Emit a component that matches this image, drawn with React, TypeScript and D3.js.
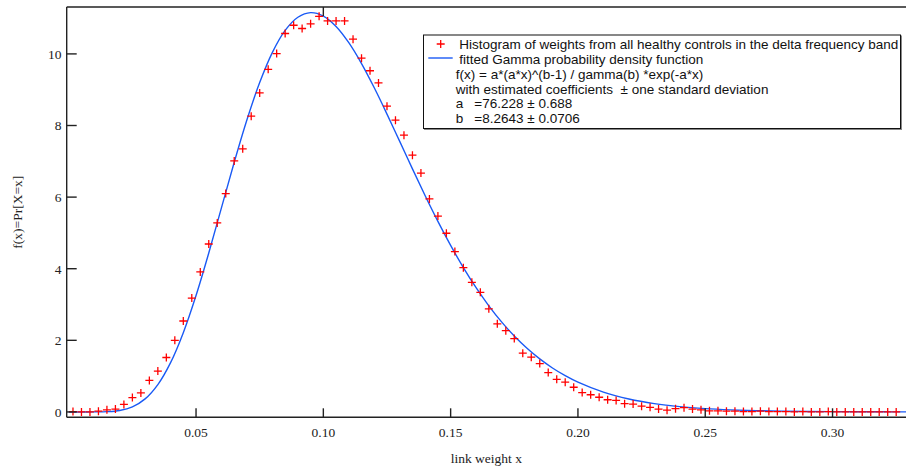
import React from "react";
import * as d3 from "d3";

// ---- data ----
const BIN_WIDTH = 1 / 300;
const histValues: number[] = [
  0.01, 0.0, 0.0, 0.02, 0.06, 0.08, 0.21, 0.4, 0.53, 0.88,
  1.14, 1.52, 2.0, 2.54, 3.18, 3.91, 4.69, 5.28, 6.1, 7.01,
  7.35, 8.26, 8.91, 9.57, 10.01, 10.57, 10.8, 10.71, 10.84, 11.05,
  10.92, 10.92, 10.92, 10.41, 9.88, 9.53, 9.19, 8.54, 8.15, 7.73,
  7.17, 6.67, 5.95, 5.47, 4.99, 4.48, 4.03, 3.62, 3.34, 2.88,
  2.46, 2.27, 2.05, 1.64, 1.53, 1.35, 1.1, 0.91, 0.83, 0.69,
  0.54, 0.48, 0.41, 0.34, 0.32, 0.23, 0.22, 0.16, 0.13, 0.08,
  0.05, 0.09, 0.12, 0.08, 0.06, 0.03, 0.03, 0.02, 0.02, 0.01,
  0.01, 0.02, 0.01, 0.01, 0.01, 0.0, 0.01, 0.0, 0.0, 0.01,
  0.0, 0.0, 0.0, 0.0, 0.0, 0.0, 0.0, 0.0,
];

const curveX: number[] = [
  0, 0.005, 0.01, 0.015, 0.02, 0.025, 0.03, 0.035, 0.04, 0.045,
  0.05, 0.055, 0.06, 0.065, 0.07, 0.075, 0.08, 0.085, 0.09, 0.095,
  0.1, 0.105, 0.11, 0.115, 0.12, 0.125, 0.13, 0.135, 0.14, 0.145,
  0.15, 0.155, 0.16, 0.165, 0.17, 0.175, 0.18, 0.185, 0.19, 0.195,
  0.2, 0.21, 0.22, 0.23, 0.24, 0.25, 0.26, 0.27, 0.28, 0.29,
  0.3, 0.31, 0.32, 0.33,
];
const curveY: number[] = [
  0, 0.0000055, 0.00057, 0.0075, 0.041, 0.142, 0.365, 0.765, 1.378, 2.215,
  3.252, 4.44, 5.707, 6.972, 8.159, 9.199, 10.043, 10.656, 11.024, 11.153,
  11.058, 10.768, 10.313, 9.73, 9.053, 8.319, 7.556, 6.789, 6.04, 5.323,
  4.652, 4.032, 3.469, 2.963, 2.514, 2.12, 1.777, 1.481, 1.228, 1.013,
  0.832, 0.553, 0.362, 0.233, 0.148, 0.093, 0.058, 0.035, 0.022, 0.013,
  0.008, 0.005, 0.003, 0.002,
];

const xTicks: number[] = [0.05, 0.1, 0.15, 0.2, 0.25, 0.3];
const xTickLabels: string[] = ["0.05", "0.10", "0.15", "0.20", "0.25", "0.30"];
const yTicks: number[] = [0, 2, 4, 6, 8, 10];
const topTicks: number[] = [0.1];

const legendLines: string[] = [
  "Histogram of weights from all healthy controls in the delta frequency band",
  "fitted Gamma probability density function",
  "f(x) = a*(a*x)^(b-1) / gamma(b) *exp(-a*x)",
  "with estimated coefficients  \u00b1 one standard deviation",
];
const coefNames: string[] = ["a", "b"];
const coefValues: string[] = ["=76.228 \u00b1 0.688", "=8.2643 \u00b1 0.0706"];

// ---- layout ----
const W = 906;
const H = 468;
const L = 66.7;
const R = 906.5;
const T = 7;
const B = 417.3;

const RED = "#ff0000";
const BLUE = "#1a5af5";
const AXIS = "#222";
const SERIF = "'Liberation Serif', 'Times New Roman', serif";
const SANS = "'Liberation Sans', Arial, sans-serif";

export default function App() {
  const x = d3.scaleLinear().domain([-0.0008, 0.32905]).range([L, R]);
  const y = d3.scaleLinear().domain([-0.15, 11.31]).range([B, T]);

  const curvePts: [number, number][] = curveX.map((v, i) => [v, curveY[i]]);
  const line = d3
    .line<[number, number]>()
    .x((d) => x(d[0]))
    .y((d) => y(d[1]))
    .curve(d3.curveCatmullRom.alpha(0.5));

  const histPts = histValues.map((v, i) => ({ x: (i + 0.5) * BIN_WIDTH, y: v }));
  const cross = "M-4,0H4M0,-4V4";

  return (
    <div style={{ position: "absolute", left: 0, top: 0 }}>
      <svg width={W} height={H} style={{ display: "block", background: "#fff" }}>
        <defs>
          <clipPath id="plotclip">
            <rect x={L} y={T} width={R - L} height={B - T} />
          </clipPath>
        </defs>

        {/* curve */}
        <g clipPath="url(#plotclip)">
          <path d={line(curvePts) || ""} fill="none" stroke={BLUE} strokeWidth={1.4} />
          {histPts.map((p, i) => (
            <path
              key={i}
              d={cross}
              transform={`translate(${x(p.x)},${y(p.y)})`}
              stroke={RED}
              strokeWidth={1.3}
              fill="none"
            />
          ))}
        </g>

        {/* frame */}
        <line x1={L} x2={L} y1={T} y2={B} stroke={AXIS} strokeWidth={1.4} />
        <line x1={L} x2={W} y1={T} y2={T} stroke={AXIS} strokeWidth={1.4} />
        <line x1={L} x2={W} y1={B} y2={B} stroke={AXIS} strokeWidth={1.4} />

        {/* x ticks */}
        {xTicks.map((t, i) => (
          <g key={t}>
            <line x1={x(t)} x2={x(t)} y1={B} y2={B - 9} stroke={AXIS} strokeWidth={1.4} />
            <text
              x={x(t)}
              y={437}
              textAnchor="middle"
              fontFamily={SERIF}
              fontSize={13.5}
              fill="#222"
            >
              {xTickLabels[i]}
            </text>
          </g>
        ))}
        {topTicks.map((t) => (
          <line key={t} x1={x(t)} x2={x(t)} y1={T} y2={T + 9} stroke={AXIS} strokeWidth={1.4} />
        ))}

        {/* y ticks */}
        {yTicks.map((t) => (
          <g key={t}>
            <line x1={L} x2={L + 10} y1={y(t)} y2={y(t)} stroke={AXIS} strokeWidth={1.4} />
            <text
              x={61.5}
              y={y(t) + 4.8}
              textAnchor="end"
              fontFamily={SERIF}
              fontSize={13.5}
              fill="#222"
            >
              {t}
            </text>
          </g>
        ))}

        {/* axis titles */}
        <text
          x={(L + W) / 2}
          y={463}
          textAnchor="middle"
          fontFamily={SERIF}
          fontSize={13.5}
          fill="#222"
        >
          link weight x
        </text>
        <text
          transform={`translate(22,${(T + B) / 2}) rotate(-90)`}
          textAnchor="middle"
          fontFamily={SERIF}
          fontSize={13.5}
          fill="#222"
        >
          f(x)=Pr[X=x]
        </text>

        {/* legend */}
        <g>
          <rect x={424.5} y={36} width={477} height={93.5} fill="none" stroke="#888" strokeWidth={1} />
          <rect x={423.5} y={35} width={477} height={93.5} fill="#fff" stroke="#111" strokeWidth={1} />
          <path d={cross} transform="translate(440.7,44)" stroke={RED} strokeWidth={1.3} fill="none" />
          <line x1={428.3} x2={452.7} y1={58} y2={58} stroke={BLUE} strokeWidth={1.4} />
          {legendLines.map((s, i) => (
            <text
              key={i}
              x={i < 2 ? 459.3 : 455.8}
              y={49 + i * 14.85}
              fontFamily={SANS}
              fontSize={13.5}
              fill="#111"
              style={{ whiteSpace: "pre" }}
            >
              {s}
            </text>
          ))}
          {coefNames.map((n, i) => (
            <g key={n}>
              <text x={455.8} y={49 + (4 + i) * 14.85} fontFamily={SANS} fontSize={13.5} fill="#111">
                {n}
              </text>
              <text x={474.3} y={49 + (4 + i) * 14.85} fontFamily={SANS} fontSize={13.5} fill="#111">
                {coefValues[i]}
              </text>
            </g>
          ))}
        </g>
      </svg>
    </div>
  );
}
